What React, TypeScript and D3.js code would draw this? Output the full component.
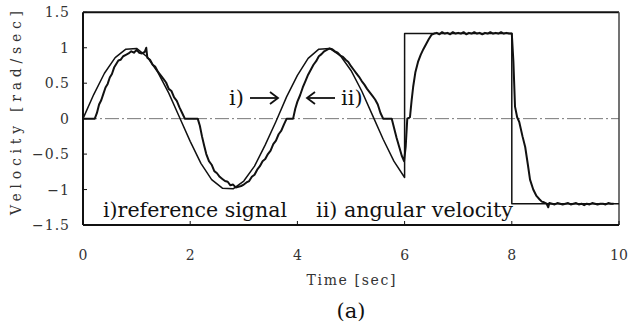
import React from "react";
import * as d3 from "d3";

// Reference signal i): sinusoid up to 6 s, then +1.2 step, then -1.2 step at 8 s
const refTimes = [
  0, 0.2, 0.4, 0.6, 0.8, 1.0, 1.2, 1.4, 1.6, 1.8, 2.0, 2.2, 2.4, 2.6, 2.8, 3.0,
  3.2, 3.4, 3.6, 3.8, 4.0, 4.2, 4.4, 4.6, 4.8, 5.0, 5.2, 5.4, 5.6, 5.8, 6.0,
  6.0, 8.0, 8.0, 10.0,
];
const refValues = [
  0, 0.34, 0.64, 0.86, 0.98, 0.99, 0.87, 0.65, 0.36, 0.02, -0.32, -0.63, -0.86,
  -0.98, -0.99, -0.88, -0.67, -0.37, -0.04, 0.31, 0.61, 0.85, 0.98, 0.99, 0.89,
  0.68, 0.39, 0.05, -0.29, -0.6, -0.83,
  1.2, 1.2, -1.2, -1.2,
];

// Measured angular velocity ii)
const velTimes = [
  0, 0.22, 0.26, 0.3, 0.34, 0.38, 0.42, 0.46, 0.5, 0.54, 0.58, 0.62, 0.66, 0.7,
  0.75, 0.8, 0.85, 0.9, 0.95, 1.0, 1.05, 1.1, 1.15, 1.18, 1.2, 1.25, 1.3, 1.35,
  1.4, 1.45, 1.5, 1.55, 1.6, 1.65, 1.7, 1.75, 1.8, 1.85, 1.9, 2.14, 2.18, 2.22,
  2.26, 2.3, 2.35, 2.4, 2.45, 2.5, 2.55, 2.6, 2.65, 2.7, 2.75, 2.8, 2.85, 2.9,
  2.95, 3.0, 3.05, 3.1, 3.15, 3.2, 3.25, 3.3, 3.35, 3.4, 3.45, 3.5, 3.55, 3.6,
  3.65, 3.7, 3.75, 3.8, 3.92, 3.96, 4.0, 4.05, 4.1, 4.15, 4.2, 4.25, 4.3, 4.35,
  4.4, 4.45, 4.5, 4.55, 4.6, 4.65, 4.7, 4.75, 4.8, 4.85, 4.9, 4.95, 5.0, 5.05,
  5.1, 5.15, 5.2, 5.25, 5.3, 5.35, 5.4, 5.45, 5.5, 5.55, 5.6, 5.76, 5.8, 5.85,
  5.9, 5.95, 5.99, 6.02, 6.05, 6.1, 6.13, 6.16, 6.2, 6.25, 6.3, 6.35, 6.4, 6.45,
  6.5, 6.55, 6.6, 6.65, 6.7, 6.75, 6.8, 6.85, 6.9, 6.95, 7.0, 7.05, 7.1, 7.15,
  7.2, 7.25, 7.3, 7.35, 7.4, 7.45, 7.5, 7.55, 7.6, 7.65, 7.7, 7.75, 7.8, 7.85,
  7.9, 7.95, 8.0, 8.03, 8.06, 8.1, 8.14, 8.2, 8.25, 8.3, 8.34, 8.4, 8.46, 8.52,
  8.56, 8.6, 8.65, 8.68, 8.7, 8.75, 8.8, 8.85, 8.9, 8.95, 9.0, 9.05, 9.1, 9.15,
  9.2, 9.25, 9.3, 9.35, 9.4, 9.45, 9.5, 9.55, 9.6, 9.65, 9.7, 9.75, 9.8, 9.85,
  9.9, 9.95, 10.0,
];
const velValues = [
  0, 0, 0.08, 0.2, 0.26, 0.35, 0.44, 0.49, 0.58, 0.63, 0.72, 0.77, 0.82, 0.83,
  0.88, 0.9, 0.92, 0.95, 0.93, 0.97, 0.93, 0.92, 0.94, 1.0, 0.86, 0.83, 0.76,
  0.73, 0.66, 0.61, 0.56, 0.51, 0.42, 0.39, 0.3, 0.25, 0.16, 0.08, 0, 0, -0.1,
  -0.25, -0.38, -0.5, -0.6, -0.65, -0.74, -0.77, -0.82, -0.85, -0.88, -0.89,
  -0.94, -0.93, -0.97, -0.96, -0.95, -0.93, -0.9, -0.88, -0.82, -0.79, -0.72,
  -0.67, -0.6, -0.57, -0.5, -0.45, -0.36, -0.31, -0.22, -0.17, -0.08, 0, 0,
  0.14, 0.24, 0.33, 0.44, 0.53, 0.62, 0.69, 0.76, 0.81, 0.88, 0.91, 0.95, 0.97,
  0.99, 0.98, 0.95, 0.93, 0.89, 0.87, 0.83, 0.8, 0.74, 0.69, 0.64, 0.59, 0.53,
  0.48, 0.42, 0.37, 0.32, 0.27, 0.2, 0.08, 0, 0, -0.12, -0.27, -0.4, -0.53,
  -0.6, -0.4, 0, 0.02, 0.25, 0.45, 0.65, 0.8, 0.9, 0.98, 1.05, 1.12, 1.18, 1.2,
  1.21, 1.19, 1.22, 1.2, 1.21, 1.19, 1.22, 1.2, 1.21, 1.2, 1.22, 1.19, 1.21,
  1.2, 1.22, 1.2, 1.21, 1.19, 1.21, 1.2, 1.22, 1.2, 1.21, 1.2, 1.22, 1.2, 1.21,
  1.2, 1.2, 0.8, 0.17, 0.02, -0.05, -0.25, -0.4, -0.65, -0.86, -1.0, -1.09,
  -1.14, -1.17, -1.18, -1.2, -1.25, -1.19, -1.2, -1.21, -1.19, -1.2, -1.21, -1.2,
  -1.19, -1.21, -1.2, -1.19, -1.21, -1.2, -1.22, -1.2, -1.21, -1.19, -1.2,
  -1.21, -1.2, -1.2, -1.21, -1.19, -1.2, -1.2,
];

const xTicks = [0, 2, 4, 6, 8, 10];
const yTicks = [1.5, 1, 0.5, 0, -0.5, -1, -1.5];

const SERIF = "'DejaVu Serif', serif";

export default function App() {
  const x = d3.scaleLinear().domain([0, 10]).range([83, 619]);
  const y = d3.scaleLinear().domain([-1.5, 1.5]).range([225, 12.3]);

  const lineFor = (ts: number[]) =>
    d3
      .line<number>()
      .x((_, i) => x(ts[i]))
      .y((v) => y(v));

  const refPath = lineFor(refTimes)(refValues) ?? "";
  const velPath = lineFor(velTimes)(velValues) ?? "";

  const fmt = (v: number) => (v < 0 ? "\u2212" : "") + String(Math.abs(v));

  const [x0, x1] = x.range();
  const yTop = y(1.5);
  const yBot = y(-1.5);
  const txt = { fontFamily: SERIF };

  return (
    <svg
      width={630}
      height={323}
      style={{ position: "absolute", left: 0, top: 0, background: "#fff", fontFamily: SERIF }}
    >
      <rect x={0} y={0} width={630} height={323} fill="#fff" />

      {/* zero grid line */}
      <line
        x1={x0}
        x2={x1}
        y1={y(0)}
        y2={y(0)}
        stroke="#777"
        strokeWidth={1}
        strokeDasharray="14 3 2 3"
      />

      {/* frame */}
      <line x1={x0} x2={x1} y1={yTop} y2={yTop} stroke="#111" strokeWidth={2} />
      <line x1={x1} x2={x1} y1={yTop} y2={yBot} stroke="#444" strokeWidth={1.5} />
      <line x1={x0} x2={x1} y1={yBot} y2={yBot} stroke="#111" strokeWidth={2} />
      <line x1={x0} x2={x0} y1={yTop} y2={yBot} stroke="#111" strokeWidth={2} />

      {/* ticks */}
      {yTicks.map((t) => (
        <line key={"yt" + t} x1={x0} x2={x0 + 4} y1={y(t)} y2={y(t)} stroke="#111" strokeWidth={1} />
      ))}
      {xTicks.map((t) => (
        <line key={"xt" + t} x1={x(t)} x2={x(t)} y1={yBot} y2={yBot - 4} stroke="#111" strokeWidth={1} />
      ))}

      {/* tick labels */}
      {yTicks.map((t) => (
        <text
          key={"yl" + t}
          x={70}
          y={y(t) + 5}
          textAnchor="end"
          fontSize={14}
          letterSpacing={1}
          fill="#333"
          style={txt}
        >
          {fmt(t)}
        </text>
      ))}
      {xTicks.map((t) => (
        <text key={"xl" + t} x={x(t)} y={260} textAnchor="middle" fontSize={14} fill="#333" style={txt}>
          {fmt(t)}
        </text>
      ))}

      {/* axis titles */}
      <text
        transform="translate(21,113) rotate(-90)"
        textAnchor="middle"
        fontSize={14}
        textLength={204}
        lengthAdjust="spacing"
        fill="#333"
        style={txt}
      >
        Velocity [rad/sec]
      </text>
      <text
        x={351}
        y={285}
        textAnchor="middle"
        fontSize={14}
        textLength={89}
        lengthAdjust="spacing"
        fill="#333"
        style={txt}
      >
        Time [sec]
      </text>
      <text x={351} y={318} textAnchor="middle" fontSize={21} fill="#111" style={txt}>
        (a)
      </text>

      {/* series */}
      <path d={refPath} fill="none" stroke="#111" strokeWidth={1.5} strokeLinejoin="round" />
      <path d={velPath} fill="none" stroke="#111" strokeWidth={2} strokeLinejoin="round" />

      {/* annotations */}
      <text x={103} y={217} fontSize={21} textLength={184} lengthAdjust="spacingAndGlyphs" fill="#111" style={txt}>
        i)reference signal
      </text>
      <text x={316} y={217} fontSize={21} textLength={197} lengthAdjust="spacingAndGlyphs" fill="#111" style={txt}>
        ii) angular velocity
      </text>

      <text x={229} y={105} fontSize={21} fill="#111" style={txt}>
        i)
      </text>
      <g stroke="#111" strokeWidth={1.8} fill="none">
        <line x1={250} x2={277} y1={98} y2={98} />
        <polyline points="270,92 278,98 270,104" />
        <line x1={308} x2={335} y1={98} y2={98} />
        <polyline points="315,92 307,98 315,104" />
      </g>
      <text x={341} y={105} fontSize={21} fill="#111" style={txt}>
        ii)
      </text>
    </svg>
  );
}
